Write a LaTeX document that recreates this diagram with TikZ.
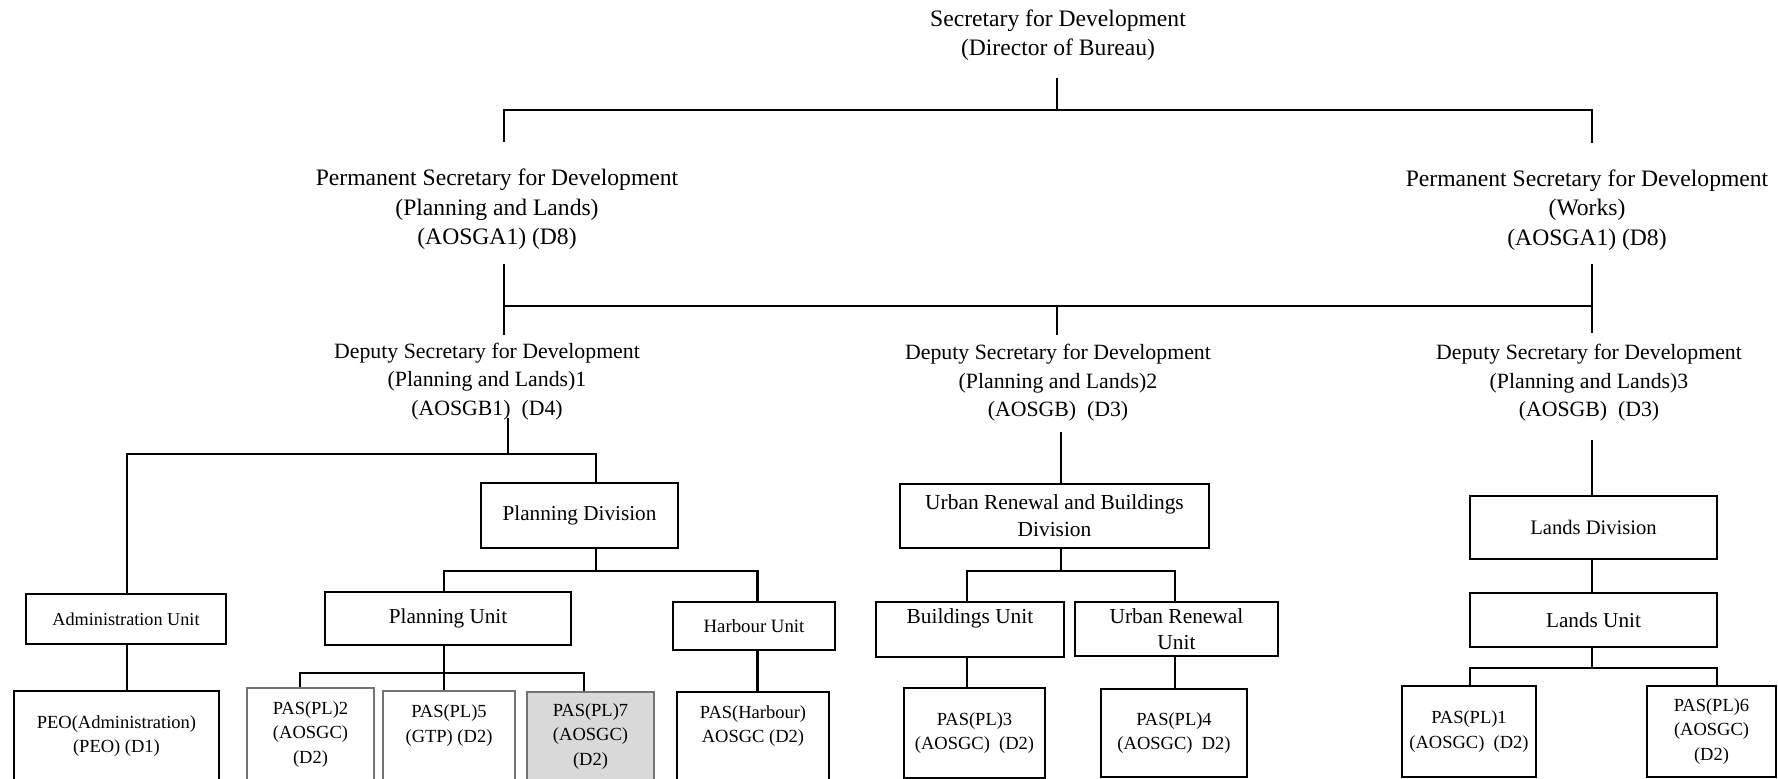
\documentclass[tikz,border=0pt]{standalone}
\usepackage{fontspec}
\setmainfont{Liberation Serif}
\begin{document}
\begin{tikzpicture}[x=0.5pt,y=-0.5pt,
  ln/.style={line width=0.55pt},
  lk/.style={line width=1.1pt},
  bxthin/.style={draw, line width=0.65pt, inner sep=0pt, align=center},
  bxthick/.style={draw, line width=1.1pt, inner sep=0pt, align=center},
  bxgray/.style={draw=black!55, line width=1.1pt, inner sep=0pt, align=center},
  wh/.style 2 args={minimum width=#1*0.5pt, minimum height=#2*0.5pt},
  big/.style={font=\fontsize{10.6}{13.5}\selectfont},
  sml/.style={font=\fontsize{9.25}{12.25}\selectfont},
  hd/.style={align=center, inner sep=0pt},
  tophd/.style={font=\fontsize{11.8}{14.6}\selectfont},
  pshd/.style={font=\fontsize{11.8}{14.75}\selectfont},
  dshd/.style={font=\fontsize{10.9}{14.25}\selectfont}
]
\useasboundingbox (0,0) rectangle (1778,779);
\clip (0,0) rectangle (1778,779);

% ---------- header texts ----------
\node[hd, tophd] (sec) at (1058,35) {Secretary for Development\\(Director of Bureau)};
\node[hd, pshd] (ps1) at (497,209.5) {Permanent Secretary for Development\\(Planning and Lands)\\(AOSGA1) (D8)};
\node[hd, pshd] (ps2) at (1587,210) {Permanent Secretary for Development\\(Works)\\(AOSGA1) (D8)};
\node[hd, dshd] (ds1) at (487,381.5) {Deputy Secretary for Development\\(Planning and Lands)1\\(AOSGB1)\ \ (D4)};
\node[hd, dshd] (ds2) at (1058,383) {Deputy Secretary for Development\\(Planning and Lands)2\\(AOSGB)\ \ (D3)};
\node[hd, dshd] (ds3) at (1589,383) {Deputy Secretary for Development\\(Planning and Lands)3\\(AOSGB)\ \ (D3)};

% ---------- boxes ----------
\node[bxthick, big, wh={197}{65}] (pdiv) at (579.5,515.5) {Planning Division};
\node[bxthin, font=\fontsize{9.1}{12}\selectfont, wh={200}{50}] (admin) at (126,619) {Administration Unit};
\node[bxthick, big, wh={246}{53}] (punit) at (448,618.5) {Planning Unit};
\node[bxthin, font=\fontsize{9.4}{12}\selectfont, wh={162}{48}] (harbour) at (754,626) {Harbour Unit};
\node[bxthick, sml, wh={205}{90}] (peo) at (116.5,736) {PEO(Administration)\\(PEO) (D1)};
\node[bxgray, sml, wh={127}{93}] (pas2) at (310.5,734.5) {PAS(PL)2\\(AOSGC)\\(D2)};
\node[bxgray, sml, wh={132}{90}] (pas5) at (449,736) {PAS(PL)5\\(GTP) (D2)\\\mbox{}};
\node[bxgray, fill=black!15, sml, wh={127}{89}] (pas7) at (590.5,736.5) {PAS(PL)7\\(AOSGC)\\(D2)};
\node[bxthin, sml, wh={152}{89}] (pash) at (753,736.5) {PAS(Harbour)\\AOSGC (D2)\\\mbox{}};

\node[bxthick, font=\fontsize{10.7}{13.5}\selectfont, wh={309}{64}] (urbd) at (1054.5,516) {Urban Renewal and Buildings\\Division};
\node[bxthick, font=\fontsize{10.7}{13.5}\selectfont, wh={188}{55}] (bunit) at (970,629.5) {Buildings Unit\\\mbox{}};
\node[bxthick, font=\fontsize{10.7}{13}\selectfont, wh={203}{54}] (runit) at (1176.5,629) {Urban Renewal\\Unit};
\node[bxthick, sml, wh={141}{90}] (pas3) at (974.5,733) {PAS(PL)3\\(AOSGC)~ (D2)};
\node[bxthick, sml, wh={146}{88}] (pas4) at (1174,733) {PAS(PL)4\\(AOSGC)~ D2)};

\node[bxthin, font=\fontsize{10.3}{13}\selectfont, wh={247}{63}] (ldiv) at (1593.5,527.5) {Lands Division};
\node[bxthin, font=\fontsize{10.6}{13}\selectfont, wh={247}{54}] (lunit) at (1593.5,620) {Lands Unit};
\node[bxthin, sml, wh={134}{91}] (pas1) at (1469,731.5) {PAS(PL)1\\(AOSGC)~ (D2)};
\node[bxthin, sml, wh={129}{91}] (pas6) at (1711.5,731.5) {PAS(PL)6\\(AOSGC)\\(D2)};

% ---------- junction coordinates ----------
\coordinate (secB) at (1057,78);
\coordinate (topbar) at (1057,110);
\coordinate (ps1T) at (504,142);
\coordinate (ps2T) at (1592,143);
\coordinate (ps1B) at (504,264);
\coordinate (ps2B) at (1592,264);
\coordinate (ds1T) at (504,335);
\coordinate (ds3T) at (1592,333);
\coordinate (midbar) at (1057,306);
\coordinate (ds2T) at (1057,335);
\coordinate (ds1B) at (508,418);
\coordinate (ds1bar) at (508,454);
\coordinate (pbar) at (596,571);
\coordinate (pubar) at (444,673);
\coordinate (ds2B) at (1061,432);
\coordinate (ubar) at (1061,571);
\coordinate (ds3B) at (1592,440);
\coordinate (lbar) at (1592,668);

% ---------- connectors: top ----------
\draw[ln] (secB) -- (topbar);
\draw[ln] (ps1T) |- (topbar);
\draw[ln] (ps2T) |- (topbar);
\draw[ln] (ps1B) -- (ds1T);
\draw[ln] (ps2B) -- (ds3T);
\draw[ln] (ds1T |- midbar) -- (ds3T |- midbar);
\draw[ln] (midbar) -- (ds2T);

% ---------- connectors: planning and lands 1 ----------
\draw[lk] (ds1B) -- (ds1bar);
\draw[lk] ([xshift=0.5pt]admin.north) |- (ds1bar) -| ([xshift=8.25pt]pdiv.north);
\draw[lk] ([xshift=8.25pt]pdiv.south) -- (pbar);
\draw[lk] ([xshift=-2pt]punit.north) |- (pbar) -| ([xshift=1.75pt]harbour.north);
\draw[lk] ([xshift=0.5pt]admin.south) -- ([xshift=0.5pt]admin.south |- peo.north);
\draw[lk] ([xshift=-2pt]punit.south) -- (pubar);
\draw[lk] ([xshift=-5.25pt]pas2.north) |- (pubar) -| ([xshift=-3.25pt]pas7.north);
\draw[lk] (pubar) -- (pubar |- pas5.north);
\draw[lk] ([xshift=1.75pt]harbour.south) -- ([xshift=1.75pt]harbour.south |- pash.north);

% ---------- connectors: planning and lands 2 ----------
\draw[ln] (ds2B) -- (ds2B |- urbd.north);
\draw[lk] (ubar |- urbd.south) -- (ubar);
\draw[lk] ([xshift=-1.5pt]bunit.north) |- (ubar) -| ([xshift=-0.75pt]runit.north);
\draw[lk] ([xshift=-1.5pt]bunit.south) -- ([xshift=-1.5pt]bunit.south |- pas3.north);
\draw[lk] ([xshift=-0.75pt]runit.south) -- ([xshift=-0.75pt]runit.south |- pas4.north);

% ---------- connectors: planning and lands 3 ----------
\draw[ln] (ds3B) -- (ds3B |- ldiv.north);
\draw[ln] (ds3B |- ldiv.south) -- (ds3B |- lunit.north);
\draw[ln] (ds3B |- lunit.south) -- (lbar);
\draw[ln] ([xshift=0.5pt]pas1.north) |- (lbar) -| ([xshift=2.75pt]pas6.north);
\end{tikzpicture}
\end{document}
